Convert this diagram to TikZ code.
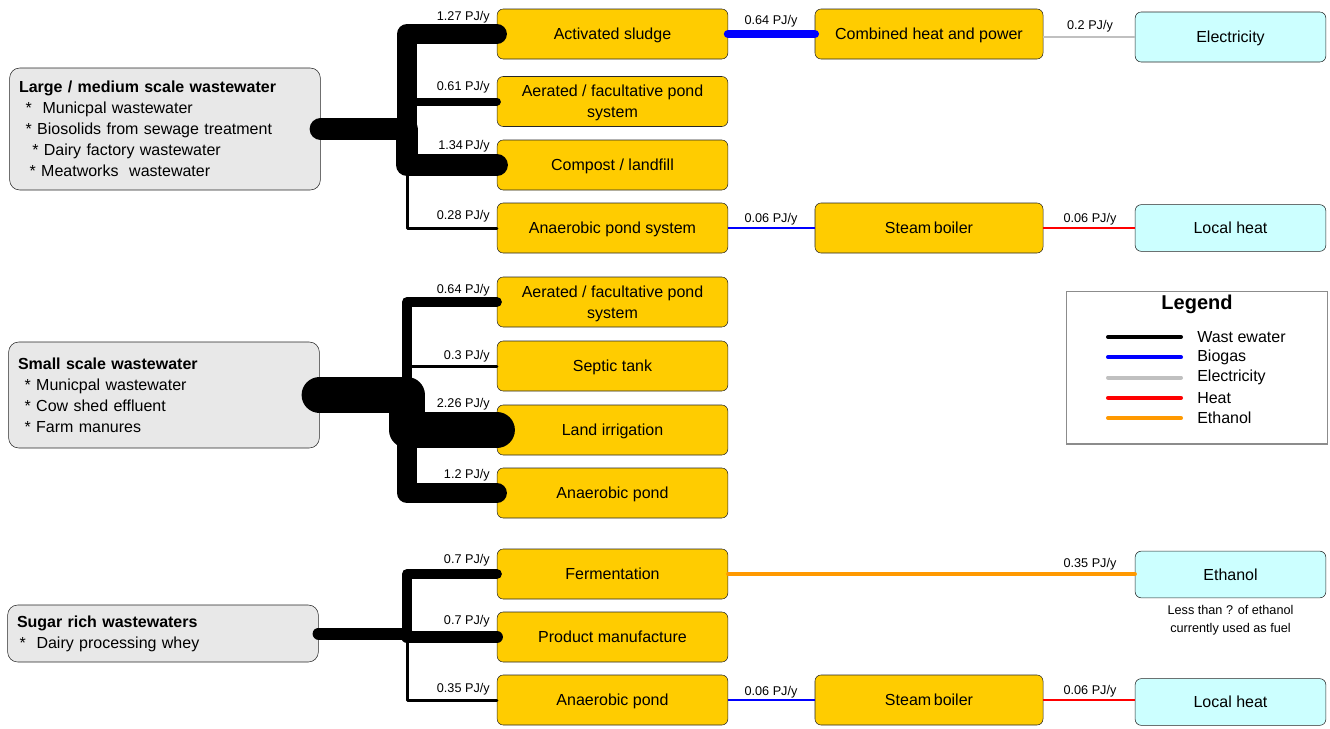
\documentclass[tikz,border=0pt]{standalone}
\usepackage{fontspec}
\setmainfont{Liberation Sans}
\usetikzlibrary{positioning}

\definecolor{procyellow}{RGB}{255,204,0}
\definecolor{srcgray}{RGB}{232,232,232}
\definecolor{usecyan}{RGB}{204,255,255}
\definecolor{biogas}{RGB}{0,0,255}
\definecolor{elecgray}{RGB}{192,192,192}
\definecolor{heatred}{RGB}{255,0,0}
\definecolor{ethorange}{RGB}{255,153,0}

\tikzset{
  srcbox/.style={draw=black!85, fill=srcgray, rounded corners=7.5pt, align=left,
    text width=219pt, inner xsep=7pt, font=\fontsize{12}{15.75}\selectfont},
  procbox/.style={draw=black!85, fill=procyellow, rounded corners=4.5pt, align=center,
    text depth=0pt, minimum width=173pt, minimum height=37.5pt, font=\fontsize{12}{15.75}\selectfont},
  usebox/.style={draw=black!85, fill=usecyan, rounded corners=4.5pt, align=center,
    text depth=0pt, minimum width=143pt, minimum height=35pt, font=\fontsize{12}{15.75}\selectfont},
  flow/.style={font=\fontsize{9.5}{11}\selectfont, inner sep=0pt},
  ww/.style={draw=black, line cap=round, line join=round},
  legtext/.style={font=\fontsize{12}{14}\selectfont, inner sep=0pt},
}

\begin{document}
\begin{tikzpicture}[x=0.75pt, y=-0.75pt]
			\useasboundingbox (0,0) rectangle (1330,728);

			% sources
			\node[srcbox, minimum height=91.5pt] at(165,129) (s1) {\textbf{Large / medium scale wastewater}\\
				\hspace*{5pt}*~~Municpal wastewater\\
				\hspace*{5pt}* Biosolids from sewage treatment\\
				\hspace*{10pt}* Dairy factory wastewater\\
				\hspace*{8pt}* Meatworks~~wastewater};
			\node[srcbox, minimum height=79.5pt] at(164,395) (s2) {\textbf{Small scale wastewater}\\
				\hspace*{5pt}* Municpal wastewater\\
				\hspace*{5pt}* Cow shed effluent\\
				\hspace*{5pt}* Farm manures};
			\node[srcbox, minimum height=42.75pt] at(163,633.5) (s3) {\textbf{Sugar rich wastewaters}\\
				\hspace*{2pt}* ~Dairy processing whey};

			% first stage
			\node[procbox] at(612.5,34) (act)  {Activated sludge};
			\node[procbox] at(612.5,101.5) (aer1) {Aerated / facultative pond\\system};
			\node[procbox] at(612.5,165) (comp) {Compost / landfill};
			\node[procbox] at(612.5,228) (anp1) {Anaerobic pond system};
			\node[procbox] at(612.5,302) (aer2) {Aerated / facultative pond\\system};
			\node[procbox] at(612.5,366) (sep)  {Septic tank};
			\node[procbox] at(612.5,430) (land) {Land irrigation};
			\node[procbox] at(612.5,493) (anp2) {Anaerobic pond};
			\node[procbox] at(612.5,574) (ferm) {Fermentation};
			\node[procbox] at(612.5,637) (prod) {Product manufacture};
			\node[procbox] at(612.5,700) (anp3) {Anaerobic pond};

			% second stage
			\node[procbox, minimum width=171pt] at(929,34) (chp)  {Combined heat and power};
			\node[procbox, minimum width=171pt] at(929,228) (stb1) {Steam\,boiler};
			\node[procbox, minimum width=171pt] at(929,700) (stb2) {Steam\,boiler};

			% end uses
			\node[usebox, minimum height=37.5pt] at(1230.5,37) (elec) {Electricity};
			\node[usebox] at(1230.5,228) (lh1) {Local heat};
			\node[usebox] at(1230.5,574.5) (eth) {Ethanol};
			\node[usebox] at(1230.5,702) (lh2) {Local heat};
			\node[flow, align=center, below=5pt of eth, font=\fontsize{9.5}{13.5}\selectfont] (note) {Less than ? of ethanol\\ currently used as fuel};

			% trunks
			\coordinate (trk1) at (407,129);
			\coordinate (trk2) at (407,395);
			\coordinate (trk3) at (407,633);

			% wastewater flows
			\draw[ww, line width=15pt]   (s1.east) -- (s1.east -| trk1) |- (act.west);
			\draw[ww, line width=6pt]    (s1.east) -- (s1.east -| trk1) |- (aer1.west);
			\draw[ww, line width=16.5pt] (s1.east) -- (s1.east -| trk1) |- (comp.west);
			\draw[ww, line width=2.25pt] (s1.east) -- (s1.east -| trk1) |- (anp1.west);

			\draw[ww, line width=7.5pt]  (s2.east) -- (s2.east -| trk2) |- (aer2.west);
			\draw[ww, line width=2.25pt] (s2.east) -- (s2.east -| trk2) |- (sep.west);
			\draw[ww, line width=27pt]   (s2.east) -- (s2.east -| trk2) |- (land.west);
			\draw[ww, line width=15pt]   (s2.east) -- (s2.east -| trk2) |- (anp2.west);

			\draw[ww, line width=7.5pt]  (s3.east) -- (s3.east -| trk3) |- (ferm.west);
			\draw[ww, line width=9pt]    (s3.east) -- (s3.east -| trk3) |- (prod.west);
			\draw[ww, line width=2.25pt] (s3.east) -- (s3.east -| trk3) |- (anp3.west);

			% energy flows
			\draw[biogas, line width=6.5pt, line cap=round] (act.east) -- (chp.west);
			\draw[elecgray, line width=1.5pt] (elec.west -| chp.east) -- (elec.west);
			\draw[biogas, line width=0.9pt] (anp1.east) -- (stb1.west);
			\draw[heatred, line width=0.9pt] (stb1.east) -- (lh1.west);
			\draw[ethorange, line width=3pt, line cap=round] (ferm.east) -- (ferm.east -| eth.west);
			\draw[biogas, line width=0.9pt] (anp3.east) -- (stb2.west);
			\draw[heatred, line width=0.9pt] (stb2.east) -- (stb2.east -| lh2.west);

			% flow labels
			\node[flow, anchor=east] at(490,17)  {1.27 PJ/y};
			\node[flow, anchor=east] at(490,87)  {0.61 PJ/y};
			\node[flow, anchor=east] at(490,146) {1.34\,PJ/y};
			\node[flow, anchor=east] at(490,216) {0.28 PJ/y};
			\node[flow, anchor=east] at(490,290) {0.64 PJ/y};
			\node[flow, anchor=east] at(490,356) {0.3 PJ/y};
			\node[flow, anchor=east] at(490,404) {2.26 PJ/y};
			\node[flow, anchor=east] at(490,475) {1.2 PJ/y};
			\node[flow, anchor=east] at(490,560) {0.7 PJ/y};
			\node[flow, anchor=east] at(490,621) {0.7 PJ/y};
			\node[flow, anchor=east] at(490,689) {0.35 PJ/y};
			\node[flow] at(771,21)   {0.64 PJ/y};
			\node[flow] at(771,219)  {0.06 PJ/y};
			\node[flow] at(771,692)  {0.06 PJ/y};
			\node[flow] at(1090,26)  {0.2 PJ/y};
			\node[flow] at(1090,219) {0.06 PJ/y};
			\node[flow] at(1090,564) {0.35 PJ/y};
			\node[flow] at(1090,691) {0.06 PJ/y};

			% legend
			\node[draw=black!45, line width=1pt, minimum width=196pt, minimum height=114.5pt] at(1197,367.5) (legend) {};
			\node[font=\fontsize{15}{17}\selectfont\bfseries, inner sep=0pt] at(1197,304) (legtitle) {Legend};
			\foreach \clr/\txt [count=\i] in {black/Wast ewater, biogas/Biogas, elecgray/Electricity, heatred/Heat, ethorange/Ethanol} {
				\draw[\clr, line width=3pt, line cap=round] (1108,316.75+20.25*\i) -- (1181,316.75+20.25*\i);
				\node[legtext, anchor=west] at(1197,316.75+20.25*\i) {\txt};
			}
			\end{tikzpicture}
\end{document}
